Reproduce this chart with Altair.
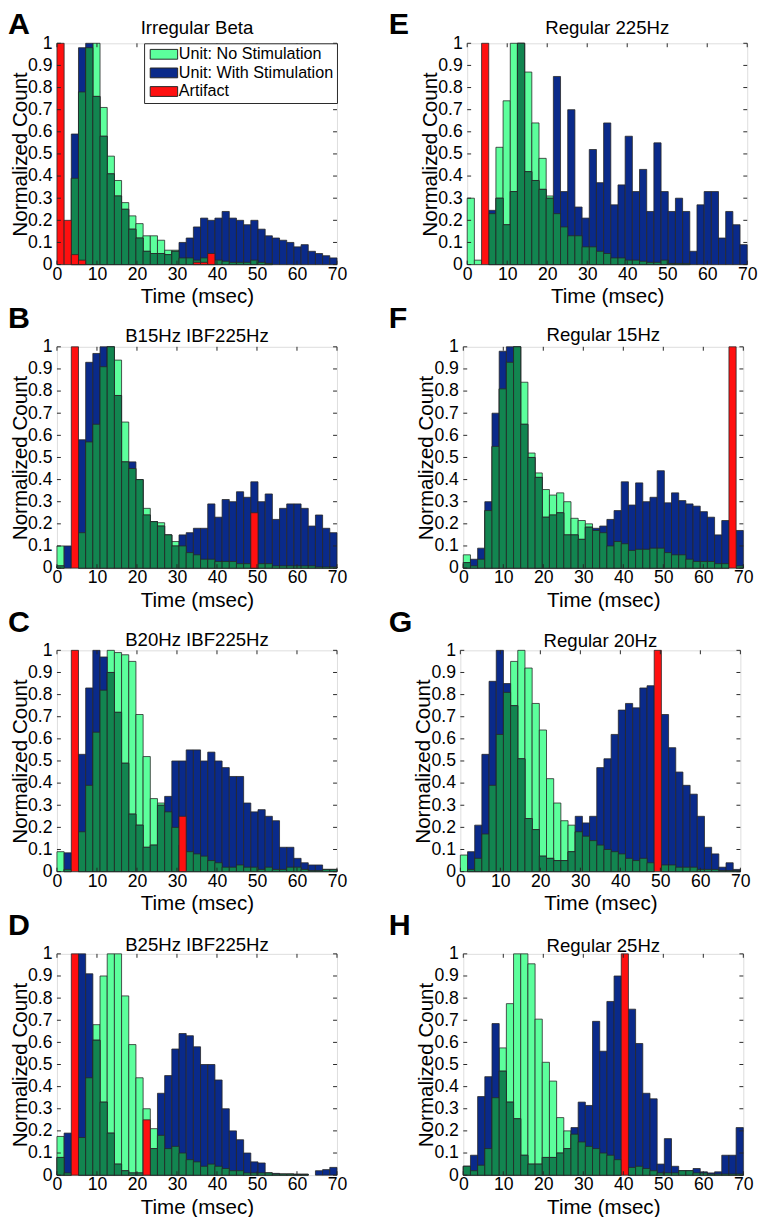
import altair as alt
import numpy as np
import pandas as pd

# ---------------- data ----------------
N_BINS = 39
X_MAX = 70
X_TICKS = [0, 10, 20, 30, 40, 50, 60, 70]
Y_TICKS = [0, 0.1, 0.2, 0.3, 0.4, 0.5, 0.6, 0.7, 0.8, 0.9, 1.0]

SERIES = ["Unit: No Stimulation", "Unit: With Stimulation", "Artifact"]

TITLES = {
    "A": "Irregular Beta", "B": "B15Hz IBF225Hz", "C": "B20Hz IBF225Hz", "D": "B25Hz IBF225Hz",
    "E": "Regular 225Hz", "F": "Regular 15Hz", "G": "Regular 20Hz", "H": "Regular 25Hz",
}

NOSTIM_A = [0, 0, .39, .78, .98, 1.0, .71, .49, .38, .28, .22, .185, .13, .13, .11, .065, .065, .03, .03, .02,
            .03, .02, .02, .015, .01, .01, .01, .02, .01, .005, 0, 0, 0, 0, 0, 0, 0, 0, 0]
STIM_A = [0, 0, .59, .98, 1.0, .76, .58, .41, .31, .25, .16, .12, .06, .05, .05, .045, .06, .10, .12, .17,
          .21, .20, .21, .24, .21, .20, .18, .20, .16, .13, .12, .11, .10, .08, .09, .06, .05, .04, .03]
ART_A = {1: 1.0, 2: .20, 3: .045, 4: .02, 20: .01, 21: .01, 22: .05}

NOSTIM_B = [.10, 0, 0, .16, .57, .65, .91, 1.0, .94, .66, .45, .40, .27, .21, .205, .15, .12, .10, .07, .06,
            .04, .04, .03, .03, .03, .02, .02, .01, .02, .02, .01, .01, .01, .01, .01, .01, .005, .005, .005]
STIM_B = [.01, .10, 0, .58, .93, .97, 1.0, 1.0, .78, .48, .48, .40, .24, .21, .19, .15, .10, .15, .16, .18,
          .18, .29, .23, .31, .30, .345, .32, .39, .30, .335, .22, .27, .29, .29, .27, .19, .24, .18, .16]
ART_B = {3: 1.0, 28: .25}

NOSTIM_C = [.09, .01, 0, .18, .39, .63, .82, 1.0, .99, .98, .95, .71, .52, .33, .31, .27, .20, .12, .09, .08,
            .07, .05, .04, .02, .02, .03, .02, .02, .01, .02, .01, .01, .02, .02, .01, .005, .005, .01, .01]
STIM_C = [0, .085, 0, .53, .83, 1.0, .97, .90, .72, .49, .26, .21, .11, .12, .30, .34, .50, .50, .55, .55,
          .50, .54, .50, .47, .43, .43, .31, .27, .28, .25, .23, .11, .11, .06, .04, .03, .03, .01, .01]
ART_C = {3: 1.0, 18: .25}

NOSTIM_D = [.175, .01, 0, .17, .44, .68, .90, 1.0, 1.0, .81, .59, .44, .30, .21, .18, .12, .13, .10, .07, .06,
            .04, .05, .04, .03, .02, .02, .01, .01, .01, .01, .005, .005, .005, .005, .005, 0, 0, 0, 0]
STIM_D = [.08, .19, 0, 1.0, .91, .61, .33, .19, .05, .02, .01, .01, 0, .12, .37, .45, .57, .64, .63, .58,
          .50, .50, .43, .30, .20, .16, .10, .06, .055, .01, .008, .005, .005, .003, .003, 0, .02, .025, .035]
ART_D = {3: 1.0, 13: .25}

NOSTIM_E = [.30, .02, 0, .23, .53, .74, 1.0, 1.0, .87, .64, .48, .31, .23, .17, .13, .13, .08, .08, .06, .05,
            .03, .03, .02, .02, .015, .01, .01, .02, .005, .005, .005, 0, 0, 0, 0, 0, 0, 0, 0]
STIM_E = [0, 0, 0, .245, .30, .18, .33, 1.0, .42, .38, .34, .30, .85, .33, .70, .26, .21, .52, .37, .64,
          .27, .36, .58, .33, .43, .24, .55, .33, .24, .30, .24, .06, .27, .33, .33, .12, .24, .18, .09]
ART_E = {3: 1.0}

NOSTIM_F = [.06, .01, .04, .26, .55, .81, .93, 1.0, .84, .52, .43, .355, .33, .34, .30, .225, .215, .20, .17, .16,
            .10, .12, .11, .08, .085, .085, .09, .09, .07, .06, .06, .04, .03, .03, .03, .02, .02, 0, .01]
STIM_F = [.025, .04, .09, .30, .70, .98, 1.0, 1.0, .65, .50, .41, .23, .24, .25, .15, .15, .13, .185, .18, .19,
          .22, .26, .39, .285, .385, .30, .32, .44, .295, .34, .305, .29, .28, .255, .23, .15, .215, 0, .17]
ART_F = {38: 1.0}

NOSTIM_G = [.075, .01, .06, .17, .39, .62, .81, .95, 1.0, .92, .76, .64, .42, .31, .23, .21, .18, .16, .14, .12,
            .10, .09, .08, .06, .05, .06, .04, 0, .03, .03, .02, .02, .02, .01, .01, .01, .005, .005, .005]
STIM_G = [0, .09, .21, .53, .86, 1.0, .85, .75, .51, .24, .19, .07, .06, .05, .05, .09, .25, .22, .25, .47,
          .51, .62, .73, .76, .74, .83, .84, 0, .71, .56, .45, .39, .35, .25, .11, .08, .02, .04, .01]
ART_G = {28: 1.0}

NOSTIM_H = [.04, .02, .045, .12, .35, .575, .775, 1.0, 1.0, .955, .705, .51, .425, .26, .20, .185, .15, .13, .12, .10,
            .09, .07, 0, .035, .04, .03, .02, .01, .01, .01, .02, .02, .01, .01, .005, .005, .005, .005, .005]
STIM_H = [.04, .09, .355, .445, .685, .47, .33, .255, .09, .05, .05, .08, .08, .10, .12, .215, .33, .315, .695, .56,
          .785, .90, 0, .75, .595, .37, .345, .05, .165, .04, .02, .02, .03, .015, .01, .015, .09, .09, .215]
ART_H = {23: 1.0}

DATA = {
    "A": (NOSTIM_A, STIM_A, ART_A), "B": (NOSTIM_B, STIM_B, ART_B),
    "C": (NOSTIM_C, STIM_C, ART_C), "D": (NOSTIM_D, STIM_D, ART_D),
    "E": (NOSTIM_E, STIM_E, ART_E), "F": (NOSTIM_F, STIM_F, ART_F),
    "G": (NOSTIM_G, STIM_G, ART_G), "H": (NOSTIM_H, STIM_H, ART_H),
}

# ---------------- style / layout ----------------
FONT = "Liberation Sans"
C_NOSTIM = "#5CFF9C"
C_STIM = "#0A2A8A"
C_OVERLAP = "#128550"
C_ART = "#FF1010"
EDGE = "#262626"
W, H = 286, 226

# (letter dx, letter baseline dy, title baseline dy) relative to plot top-left
DECOR = {"A": (-50, -9, -9), "E": (-80, -9, -10),
         "B": (-50, -19, -5), "F": (-76, -19, -6),
         "C": (-50, -19, -4), "G": (-73, -19, -3),
         "D": (-50, -19, -3), "H": (-76, -19, -2)}

XS = alt.Scale(domain=[0, X_MAX], nice=False, zero=False)
YS = alt.Scale(domain=[0, 1], nice=False)
XAX = alt.Axis(values=X_TICKS, title="Time (msec)", ticks=False, domain=False, grid=False,
               labelFlush=False, labelFontSize=18, titleFontSize=21, labelPadding=1,
               titlePadding=3, labelFont=FONT, titleFont=FONT, labelColor="black",
               titleColor="black", titleFontWeight="normal")
YAX = alt.Axis(values=Y_TICKS, format=".1~f", title="Normalized Count", ticks=False, domain=False,
               grid=False, labelFlush=False, labelFontSize=18, titleFontSize=21, labelPadding=5,
               titlePadding=-3, labelFont=FONT, titleFont=FONT, labelColor="black",
               titleColor="black", titleFontWeight="normal")


def X(field):
    return alt.X(field, type="quantitative", scale=XS, axis=XAX)


def Y(field):
    return alt.Y(field, type="quantitative", scale=YS, axis=YAX)


def panel(key):
    nostim, stim, art = DATA[key]
    edges = [X_MAX * i / N_BINS for i in range(N_BINS + 1)]
    art_full = [art.get(i + 1, 0) for i in range(N_BINS)]
    df = pd.DataFrame({
        "x0": edges[:-1], "x1": edges[1:],
        "nostim": nostim, "stim": stim, "art": art_full,
    })
    df["overlap"] = np.minimum(df["nostim"], df["stim"])
    df["base"] = 0.0
    base = alt.Chart(df)
    legend_on = key == "A"

    def color(const):
        if legend_on:
            return alt.Color(
                "series:N",
                scale=alt.Scale(domain=SERIES, range=[C_NOSTIM, C_STIM, C_ART]),
                legend=alt.Legend(
                    title=None, orient="none", legendX=89, legendY=0, direction="vertical",
                    strokeColor=EDGE, fillColor="white", padding=3, cornerRadius=0,
                    labelFont=FONT, labelFontSize=16.5, labelColor="black", labelLimit=400,
                    symbolType="M-2.8,-1H2.8V1H-2.8Z", symbolSize=100, symbolOffset=9,
                    labelOffset=7, symbolStrokeColor=EDGE, symbolStrokeWidth=1,
                    rowPadding=2,
                ),
            )
        return alt.value(const)

    bar_kw = dict(stroke=EDGE, strokeWidth=0.8)
    green = base.transform_filter("datum.nostim > 0").transform_calculate(
        series="'Unit: No Stimulation'").mark_bar(**bar_kw).encode(
        x=X("x0"), x2="x1", y=Y("nostim"), y2="base", color=color(C_NOSTIM))
    blue = base.transform_filter("datum.stim > 0").transform_calculate(
        series="'Unit: With Stimulation'").mark_bar(**bar_kw).encode(
        x=X("x0"), x2="x1", y=Y("stim"), y2="base", color=color(C_STIM))
    overlap = base.transform_filter("datum.overlap > 0").mark_bar(
        fill=C_OVERLAP, **bar_kw).encode(x=X("x0"), x2="x1", y=Y("overlap"), y2="base")
    red = base.transform_filter("datum.art > 0").transform_calculate(
        series="'Artifact'").mark_bar(**bar_kw).encode(
        x=X("x0"), x2="x1", y=Y("art"), y2="base", color=color(C_ART))

    xt = alt.Chart(pd.DataFrame({"t": X_TICKS}))
    yt = alt.Chart(pd.DataFrame({"t": Y_TICKS}))
    rk = dict(color=EDGE, strokeWidth=1)
    tick_bottom = xt.mark_rule(**rk).encode(x=X("t"), y=alt.value(H - 4), y2=alt.value(H))
    tick_top = xt.mark_rule(**rk).encode(x=X("t"), y=alt.value(0), y2=alt.value(4))
    tick_left = yt.mark_rule(**rk).encode(y=Y("t"), x=alt.value(0), x2=alt.value(4))
    tick_right = yt.mark_rule(**rk).encode(y=Y("t"), x=alt.value(W - 4), x2=alt.value(W))

    lx, ly, ty = DECOR[key]
    txt = alt.Chart(pd.DataFrame({"letter": [key], "title": [TITLES[key]]}))
    letter = txt.mark_text(
        font=FONT, fontSize=31, fontWeight="bold", align="left", baseline="alphabetic",
        color="black").encode(text="letter:N", x=alt.value(lx), y=alt.value(ly))
    title = txt.mark_text(
        font=FONT, fontSize=19, align="center", baseline="alphabetic",
        color="black").encode(text="title:N", x=alt.value(W / 2), y=alt.value(ty))

    layers = [green, blue, overlap, red, tick_bottom, tick_top, tick_left, tick_right,
              letter, title]
    return alt.layer(*layers).properties(width=W, height=H)


rows = []
for left, right in [("A", "E"), ("B", "F"), ("C", "G"), ("D", "H")]:
    rows.append(alt.hconcat(panel(left), panel(right), spacing=41)
                .resolve_scale(color="independent"))

chart = alt.vconcat(*rows, spacing=-5).resolve_scale(
    color="independent").properties(padding={"left": -1, "top": -12, "right": 0, "bottom": 0}
).configure_view(stroke=EDGE, strokeWidth=1).configure(background="white")

chart.save("out.html", embed_options={"renderer": "svg", "actions": False})
